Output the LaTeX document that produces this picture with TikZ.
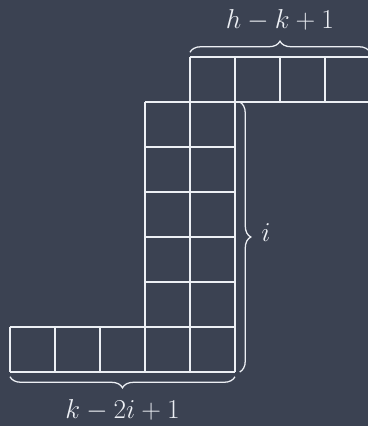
\documentclass[tikz,border=0pt]{standalone}
\usepackage{amsmath}
\usetikzlibrary{decorations.pathreplacing}
\definecolor{StairBg}{HTML}{3B4252}
\definecolor{StairInk}{HTML}{ECEFF4}

\begin{document}
\begin{tikzpicture}[
      cell/.style={draw=StairInk,line width=0.8pt},
      brace/.style={draw=StairInk,line width=0.8pt,decorate,
        decoration={brace,amplitude=7pt,raise=3pt}},
      count/.style={text=StairInk,font=\fontsize{18}{22}\selectfont}
    ]
    \fill[StairBg] (-0.222,-1.2) rectangle (7.956,8.267);
    \useasboundingbox (-0.222,-1.2) rectangle (7.956,8.267);

    % the three blocks of cells
    \draw[cell] (0,0) grid (5,1);
    \draw[cell] (3,1) grid (5,6);
    \draw[cell] (4,6) grid (8,7);

    \coordinate (topL) at (4,7);
    \coordinate (topR) at (8,7);
    \coordinate (colT) at (5,6);
    \coordinate (colB) at (5,0);
    \coordinate (rowL) at (0,0);

    \draw[brace] (topL) -- (topR);
    \draw[brace] (colT) -- (colB);
    \draw[brace] (colB) -- (rowL);

    \node[count] (width) at (6,7.83) {$h-k+1$};
    \node[count] (height) at (5.69,3.1) {$i$};
    \node[count] (base) at (2.5,-0.84) {$k-2i+1$};
  \end{tikzpicture}
\end{document}
